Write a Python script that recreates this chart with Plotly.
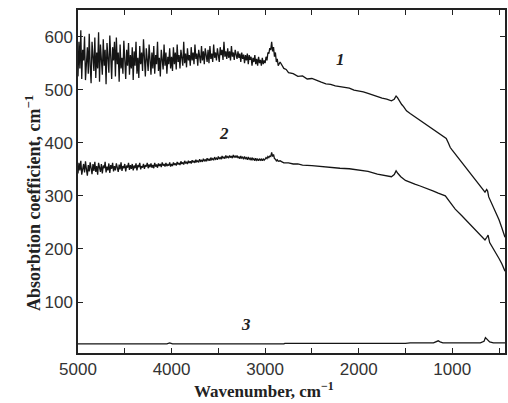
import plotly.graph_objects as go

# ---- data ----
noisy_wn = [5000 - 10 * i for i in range(215)]  # sampling grid 5000 ... 2860

c1_noisy = (
    [525, 590, 540, 612, 520, 575, 555, 600, 518, 565, 580, 530, 605, 545, 512, 590, 560, 535, 598, 522]
    + [570, 540, 608, 515, 585, 550, 528, 595, 545, 575, 510, 588, 560, 532, 602, 540, 520, 580, 555, 590]
    + [525, 598, 548, 570, 515, 585, 540, 560, 530, 592, 552, 520, 575, 545, 588, 528, 565, 540, 580, 518]
    + [572, 545, 590, 530, 560, 522, 582, 548, 570, 535, 595, 540, 525, 578, 555, 535, 585, 545, 528, 570]
    + [540, 582, 530, 565, 548, 590, 535, 560, 525, 575, 552, 538, 585, 545, 570, 530, 562, 548, 578, 540]
    + [562, 535, 580, 548, 570, 538, 585, 552, 565, 540, 575, 555, 545, 590, 550, 568, 542, 578, 555, 565]
    + [545, 580, 555, 570, 548, 585, 558, 568, 545, 575, 560, 550, 582, 555, 572, 548, 578, 560, 552, 575]
    + [550, 582, 558, 568, 552, 585, 560, 570, 555, 578, 562, 552, 580, 565, 575, 556, 590, 562, 572, 558]
    + [578, 560, 572, 555, 582, 562, 570, 556, 575, 565, 558, 572, 560, 568, 552, 570, 558, 566, 550, 565]
    + [555, 568, 548, 565, 556, 562, 545, 560, 552, 565, 548, 558, 545, 562, 550, 556, 545, 560, 548, 555]
    + [550, 562, 555, 570, 568, 578, 575, 590, 572, 580, 562, 570, 552, 558, 545]
)
c1_tail_wn = [2840, 2820, 2800, 2775, 2750, 2700, 2650, 2600, 2550, 2500, 2450, 2400, 2350, 2300, 2250, 2200,
              2150, 2100, 2050, 2000, 1950, 1900, 1850, 1800, 1750, 1700, 1650, 1620, 1600, 1585, 1560, 1540,
              1520, 1489, 1450, 1400, 1350, 1300, 1250, 1200, 1150, 1100, 1064, 1040, 1021, 1000, 900, 800,
              700, 650, 632, 622, 610, 564, 500, 470, 436]
c1_tail = [552, 545, 540, 538, 532, 530, 525, 526, 520, 521, 517, 514, 511, 510, 507, 506,
           504, 503, 499, 498, 496, 493, 490, 486, 484, 482, 479, 482, 488, 485, 476, 472,
           468, 460, 455, 449, 443, 437, 431, 425, 418, 412, 408, 399, 391, 386, 364, 341,
           318, 307, 312, 309, 298, 281, 255, 240, 222]

c2_noisy = (
    [342, 362, 348, 366, 340, 355, 360, 344, 365, 350, 338, 358, 346, 363, 352, 341, 360, 347, 364, 345]
    + [356, 340, 362, 350, 345, 360, 342, 357, 352, 364, 344, 355, 348, 361, 343, 358, 351, 362, 346, 356]
    + [348, 361, 352, 345, 359, 350, 363, 347, 356, 352, 360, 346, 357, 353, 362, 349, 358, 351, 360, 348]
    + [357, 352, 361, 348, 358, 354, 362, 350, 356, 353, 360, 351, 358, 355, 362, 352, 359, 354, 361, 353]
    + [358, 352, 362, 355, 359, 353, 361, 356, 360, 354, 363, 357, 360, 355, 362, 356, 359, 357, 363, 355]
    + [360, 356, 363, 358, 361, 357, 364, 359, 362, 358, 365, 360, 363, 359, 366, 361, 364, 360, 366, 362]
    + [365, 361, 367, 363, 366, 362, 368, 364, 366, 363, 369, 365, 367, 364, 370, 366, 368, 365, 371, 367]
    + [369, 366, 372, 368, 370, 367, 373, 369, 371, 368, 374, 370, 372, 369, 375, 371, 373, 370, 376, 372]
    + [374, 371, 376, 372, 375, 371, 377, 373, 375, 372, 376, 371, 374, 370, 375, 371, 373, 369, 374, 370]
    + [372, 368, 373, 369, 371, 367, 372, 368, 370, 366, 371, 367, 369, 366, 370, 367, 369, 366, 370, 367]
    + [369, 372, 370, 374, 372, 375, 374, 382, 374, 378, 370, 369, 366, 368, 365]
)
c2_tail_wn = [2840, 2820, 2800, 2750, 2700, 2650, 2600, 2500, 2400, 2300, 2200, 2100, 2000, 1900, 1800, 1700,
              1650, 1620, 1600, 1580, 1550, 1500, 1450, 1400, 1350, 1300, 1255, 1200, 1150, 1100, 1074, 1020,
              968, 900, 800, 700, 650, 630, 617, 600, 543, 500, 470, 436]
c2_tail = [366, 364, 362, 362, 360, 360, 358, 357, 355, 354, 352, 351, 349, 346, 341, 337,
           336, 340, 347, 342, 336, 329, 325, 322, 319, 316, 313, 309, 305, 302, 300, 287,
           275, 263, 245, 227, 217, 222, 226, 212, 196, 182, 172, 158]

c3_wn = [5000, 4050, 4020, 3990, 2800, 2790, 1500, 1450, 1200, 1170, 1150, 1130, 1100, 700, 660, 645, 630, 600, 560, 436]
c3 = [21, 21, 23, 21, 21, 22, 22, 23, 23, 25, 27, 25, 23, 23, 26, 33, 30, 25, 23, 23]

y_ticks = [100, 200, 300, 400, 500, 600]
curve_labels = ["1", "2", "3"]
label_wn = [2190, 3436, 3200]
label_val = [556, 417, 57]

# ---- figure ----
line = dict(color="#151515", width=1.3)
fig = go.Figure()
fig.add_trace(go.Scatter(x=noisy_wn + c1_tail_wn, y=c1_noisy + c1_tail, mode="lines", line=line))
fig.add_trace(go.Scatter(x=noisy_wn + c2_tail_wn, y=c2_noisy + c2_tail, mode="lines", line=line))
fig.add_trace(go.Scatter(x=c3_wn, y=c3, mode="lines", line=line))

for t, xv, yv in zip(curve_labels, label_wn, label_val):
    fig.add_annotation(x=xv, y=yv, text="<b><i>" + t + "</i></b>", showarrow=False,
                       font=dict(family="Liberation Serif", size=17, color="#222"))

fig.add_annotation(x=0.435, y=-0.07, xref="paper", yref="paper", yanchor="top",
                   text="<b>Wavenumber, cm<sup>−1</sup></b>", showarrow=False,
                   font=dict(family="Liberation Serif", size=17, color="#222"))
fig.add_annotation(x=-0.1375, y=0.437, xref="paper", yref="paper", textangle=-90,
                   text="<b>Absorbtion coefficient, cm<sup>−1</sup></b>", showarrow=False,
                   font=dict(family="Liberation Serif", size=18, color="#222"))

axis_common = dict(showgrid=False, zeroline=False, showline=True, linecolor="#222", linewidth=1.5,
                   mirror="allticks", ticks="inside", ticklen=5, tickcolor="#222", tickwidth=1.2,
                   tickfont=dict(family="Liberation Sans", size=17, color="#333"))
fig.update_xaxes(range=[5000, 436], tickmode="linear", tick0=0, dtick=1000,
                 minor=dict(tickmode="linear", dtick=500, tick0=0, ticks="inside", ticklen=5,
                            tickwidth=1.2, tickcolor="#222", showgrid=False),
                 **axis_common)
fig.update_yaxes(range=[4, 650], tickvals=y_ticks, **axis_common)

fig.update_layout(width=508, height=403, margin=dict(l=78, r=1, t=10, b=50),
                  plot_bgcolor="white", paper_bgcolor="white", showlegend=False)
fig.write_html("out.html")
